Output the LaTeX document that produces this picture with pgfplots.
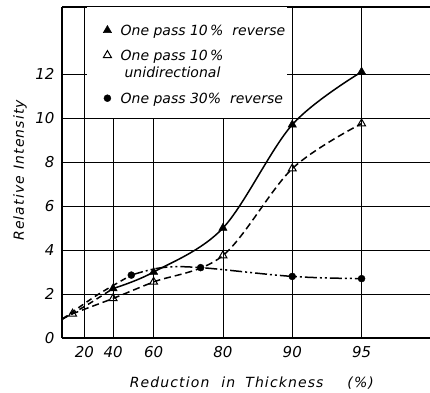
\documentclass[border=0pt]{standalone}
\usepackage{pgfplots}
\pgfplotsset{compat=1.18}
\usepackage{fontspec}
\setmainfont{DejaVu Sans}
\newfontfamily\lblfont{DejaVu Sans}[LetterSpace=8]
\pgfplotsset{myleg/.style={legend image code/.code={\path (0pt,0pt) (28pt,10pt);\draw[mark repeat=2,mark phase=2,##1] plot coordinates {(12pt,5pt) (20pt,5pt) (28pt,5pt)};}}}
\begin{document}
\begin{tikzpicture}[x=1pt,y=1pt]
\begin{axis}[
  name=ax, at={(0,0)}, anchor=south west,
  scale only axis, width=368pt, height=331pt,
  xmin=0, xmax=3.68, ymin=0, ymax=15.05,
  axis x line=box, axis y line=left,
  axis line style={-, line width=1.5pt},
  xtick={0.2231,0.5108,0.9163,1.6094,2.3026,2.9957},
  xticklabels={20,40,60,80,90,95},
  ytick={0,2,4,6,8,10,12},
  major tick length=0pt,
  grid=major, grid style={black, line width=0.6pt},
  /pgf/number format/assume math mode=true,
  tick label style={font=\fontsize{15}{17}\selectfont\itshape},
  xticklabel style={yshift=-5pt},
  yticklabel style={xshift=-4pt},
  xlabel={\lblfont\itshape Reduction\hspace{12pt}in\hspace{10pt}Thickness\hspace{24pt}(\%)},
  xlabel style={at={(axis description cs:0.516,-0.136)}, anchor=center, font=\fontsize{14}{16}\selectfont},
  ylabel={\lblfont\itshape Relative\hspace{6pt}Intensity},
  ylabel style={at={(axis description cs:-0.114,0.507)}, anchor=center, font=\fontsize{14}{16}\selectfont},
  legend cell align=left,
  legend style={at={(rel axis cs:0.068,1)}, anchor=north west, draw=none, fill=white,
    inner xsep=0pt, inner ysep=10pt, row sep=0pt, column sep=3pt,
    font=\fontsize{14}{17}\selectfont\itshape, cells={anchor=base west},
    nodes={inner ysep=0pt, inner xsep=2pt, text depth=}},
]
% curves
\addplot[black, line width=1.5pt, smooth, dash pattern=on 6pt off 4pt, forget plot] coordinates {
  (0,0.85) (0.25,1.5) (0.5108,2.25)};
\addplot[black, line width=1.5pt, smooth, tension=0.55, forget plot] coordinates {
  (0.5108,2.25) (0.9163,3.0) (1.6094,5.0) (2.3026,9.7) (2.9957,12.1)};
\addplot[black, line width=1.5pt, smooth, tension=0.55, dash pattern=on 7pt off 4pt, forget plot] coordinates {
  (0,0.85) (0.1054,1.1) (0.5108,1.8) (0.9163,2.55) (1.6094,3.75) (2.3026,7.7) (2.9957,9.75)};
\addplot[black, line width=1.5pt, smooth, dash pattern=on 6pt off 4pt, forget plot] coordinates {
  (0,0.85) (0.35,1.95) (0.6931,2.86)};
\addplot[black, line width=1.5pt, smooth, tension=0.6, dash pattern=on 12pt off 3pt on 2pt off 3pt on 2pt off 3pt, forget plot] coordinates {
  (0.6931,2.86) (1.0,3.2) (1.3863,3.2) (2.3026,2.8) (2.9957,2.7)};
% markers
\addplot[only marks, myleg, mark=triangle*, mark size=4.8pt, black] coordinates {
  (0.5108,2.25) (0.9163,3.0) (1.6094,5.0) (2.3026,9.7) (2.9957,12.1)};
\addlegendentry{\rule[-13pt]{0pt}{31pt}One pass 10\,\%\ \ reverse\hspace{-30pt}}
\addplot[only marks, myleg, mark=triangle, mark size=4.6pt, black, mark options={fill=white, line width=1pt}] coordinates {
  (0.1054,1.1) (0.5108,1.8) (0.9163,2.55) (1.6094,3.75) (2.3026,7.7) (2.9957,9.75)};
\addlegendentry{\rule[-5pt]{0pt}{17pt}One pass 10\,\%}
\addlegendimage{empty legend}
\addlegendentry{\rule[-14pt]{0pt}{26pt}\hspace{4pt}unidirectional}
\addplot[only marks, myleg, mark=*, mark size=3.5pt, black] coordinates {
  (0.6931,2.86) (1.3863,3.2) (2.3026,2.8) (2.9957,2.7)};
\addlegendentry{\rule[-5pt]{0pt}{17pt}One pass 30\%\ \ reverse\hspace{-16pt}}
\end{axis}
\pgfresetboundingbox
\path (-62,-54) rectangle (368,338);
\end{tikzpicture}
\end{document}
